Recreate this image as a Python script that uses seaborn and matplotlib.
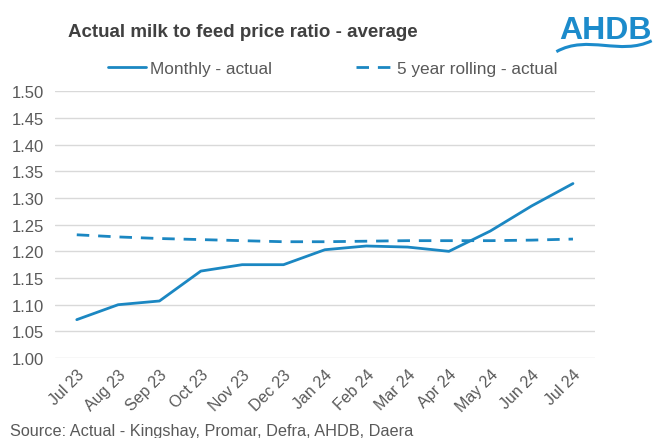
import matplotlib
matplotlib.use("Agg")
import matplotlib.pyplot as plt
import seaborn as sns
import pandas as pd
from matplotlib.path import Path
from matplotlib.patches import PathPatch

months = ["Jul 23", "Aug 23", "Sep 23", "Oct 23", "Nov 23", "Dec 23", "Jan 24",
          "Feb 24", "Mar 24", "Apr 24", "May 24", "Jun 24", "Jul 24"]
monthly_actual = [1.072, 1.100, 1.107, 1.163, 1.175, 1.175, 1.203,
                  1.210, 1.208, 1.200, 1.238, 1.285, 1.327]
rolling_5yr = [1.231, 1.227, 1.224, 1.222, 1.220, 1.218, 1.218,
               1.219, 1.220, 1.220, 1.220, 1.221, 1.223]

df = pd.DataFrame({"idx": range(len(months)), "month": months,
                   "monthly": monthly_actual, "rolling": rolling_5yr})

sns.set_theme(style="white")
plt.rcParams['font.family'] = ['Liberation Sans', 'DejaVu Sans']

BLUE = "#1B87C2"
GRAY = "#595959"

fig = plt.figure(figsize=(6.53, 4.39), dpi=100)
ax = fig.add_axes([0.084, 0.182, 0.827, 0.608])

sns.lineplot(data=df, x="idx", y="monthly", ax=ax, color=BLUE, linewidth=2.0,
             label="Monthly - actual")
sns.lineplot(data=df, x="idx", y="rolling", ax=ax, color=BLUE, linewidth=2.0,
             label="5 year rolling - actual")
ax.lines[1].set_dashes((4.5, 3.2))

ax.set_xlim(-0.53, len(months) - 1 + 0.53)
ax.set_ylim(1.0, 1.5)
ax.set_yticks([1.00 + 0.05 * i for i in range(11)])
ax.set_yticklabels([f"{1.00 + 0.05 * i:.2f}" for i in range(11)], color=GRAY, fontsize=12)
ax.set_xticks(range(len(months)))
ax.set_xticklabels(months, rotation=45, ha="right", rotation_mode="anchor",
                   color=GRAY, fontsize=11.5)
ax.tick_params(axis="both", length=0, pad=6)
ax.tick_params(axis="y", pad=8)
ax.yaxis.grid(True, color="#D9D9D9", linewidth=1)
ax.xaxis.grid(False)
for s in ax.spines.values():
    s.set_visible(False)
ax.set_xlabel("")
ax.set_ylabel("")

leg = ax.legend(loc="lower center", bbox_to_anchor=(0.515, 1.0), ncol=2, frameon=False,
                fontsize=12.4, handlelength=2.2, handletextpad=0.2, columnspacing=4.9)
for t in leg.get_texts():
    t.set_color(GRAY)

fig.text(0.104, 0.927, "Actual milk to feed price ratio - average", fontsize=13.5,
         fontweight="bold", color="#404040", va="center", ha="left")
fig.text(0.015, 0.018, "Source: Actual - Kingshay, Promar, Defra, AHDB, Daera",
         fontsize=11.7, color=GRAY, va="center", ha="left")

# logo
fig.text(0.998, 0.93, "AHDB", fontsize=23, fontweight="bold", color="#1C8BCB",
         ha="right", va="center")
verts = [(0.852, 0.88), (0.90, 0.92), (0.95, 0.87), (0.998, 0.905)]
codes = [Path.MOVETO, Path.CURVE4, Path.CURVE4, Path.CURVE4]
fig.add_artist(PathPatch(Path(verts, codes), transform=fig.transFigure,
                         facecolor="none", edgecolor="#1C8BCB", linewidth=2.2))

fig.savefig("out.png", dpi=100)
